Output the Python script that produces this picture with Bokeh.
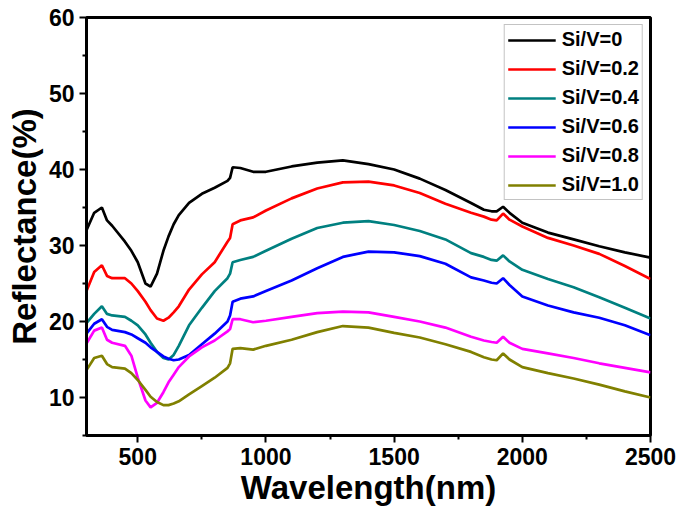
from bokeh.plotting import figure
from bokeh.models import FixedTicker, Range1d, Legend, LegendItem
from bokeh.embed import file_html
from bokeh.resources import INLINE

wavelength = [300, 330, 360, 380, 400, 450, 475, 500, 530, 550, 575, 600, 620, 640, 660,
              700, 750, 800, 850, 860, 870, 900, 950, 1000, 1100, 1200, 1300, 1400, 1500,
              1600, 1700, 1800, 1850, 1880, 1900, 1925, 1950, 2000, 2100, 2200, 2300, 2400, 2500]

si_v_00 = [32.0, 34.3, 35.0, 33.3, 32.6, 30.5, 29.3, 27.8, 25.0, 24.6, 26.3, 29.3, 31.2, 32.8, 34.0,
           35.6, 36.8, 37.6, 38.5, 38.9, 40.3, 40.2, 39.7, 39.7, 40.4, 40.9, 41.2, 40.7, 40.0,
           38.8, 37.3, 35.6, 34.7, 34.5, 34.5, 35.1, 34.3, 33.0, 31.7, 30.8, 29.9, 29.1, 28.4]
si_v_02 = [24.0, 26.5, 27.4, 26.0, 25.7, 25.7, 25.0, 24.0, 22.6, 21.5, 20.4, 20.1, 20.5, 21.2, 22.0,
           24.2, 26.2, 27.8, 30.5, 31.0, 32.8, 33.3, 33.7, 34.6, 36.2, 37.5, 38.3, 38.4, 37.9,
           36.9, 35.5, 34.3, 33.8, 33.4, 33.3, 34.2, 33.4, 32.5, 31.0, 30.0, 28.9, 27.3, 25.6]
si_v_04 = [19.8, 21.0, 22.0, 21.0, 20.8, 20.6, 20.1, 19.5, 18.3, 17.2, 16.0, 15.2, 15.0, 15.6, 16.8,
           19.5, 21.8, 24.0, 25.7, 26.3, 27.8, 28.1, 28.5, 29.3, 30.9, 32.3, 33.0, 33.2, 32.7,
           31.9, 30.8, 29.0, 28.5, 28.1, 28.0, 28.7, 27.9, 26.8, 25.6, 24.5, 23.2, 21.8, 20.4]
si_v_06 = [18.4, 19.7, 20.3, 19.3, 18.9, 18.6, 18.3, 17.8, 17.2, 16.6, 16.0, 15.4, 15.1, 14.9, 15.0,
           15.6, 17.0, 18.4, 20.0, 20.8, 22.6, 23.0, 23.3, 24.0, 25.4, 27.0, 28.5, 29.2, 29.1,
           28.6, 27.6, 25.8, 25.4, 25.1, 25.0, 25.7, 24.8, 23.3, 22.1, 21.2, 20.5, 19.5, 18.2]
si_v_08 = [17.1, 18.8, 19.2, 17.6, 17.2, 16.8, 15.5, 12.6, 9.6, 8.7, 9.3, 10.7, 12.0, 13.0, 14.0,
           15.4, 16.6, 17.5, 18.7, 19.0, 20.3, 20.3, 19.9, 20.1, 20.6, 21.1, 21.3, 21.2, 20.6,
           20.0, 19.2, 18.0, 17.5, 17.3, 17.2, 18.0, 17.2, 16.4, 15.8, 15.2, 14.5, 13.9, 13.3]
si_v_10 = [13.6, 15.2, 15.5, 14.4, 14.0, 13.8, 13.2, 12.3, 11.0, 10.1, 9.4, 9.0, 9.0, 9.2, 9.5,
           10.4, 11.5, 12.6, 13.9, 14.5, 16.4, 16.5, 16.3, 16.8, 17.6, 18.6, 19.4, 19.2, 18.5,
           17.9, 17.0, 16.0, 15.3, 15.0, 14.9, 15.8, 15.0, 14.0, 13.2, 12.5, 11.7, 10.8, 10.0]

series = [si_v_00, si_v_02, si_v_04, si_v_06, si_v_08, si_v_10]
labels = ["Si/V=0", "Si/V=0.2", "Si/V=0.4", "Si/V=0.6", "Si/V=0.8", "Si/V=1.0"]
colors = ["#000000", "#FF0000", "#008080", "#0000FF", "#FF00FF", "#808000"]

x_ticks = [500, 1000, 1500, 2000, 2500]
x_minor = [750, 1250, 1750, 2250]
y_ticks = [10, 20, 30, 40, 50, 60]
y_minor = [5, 15, 25, 35, 45, 55]

FONT = "Liberation Sans"

p = figure(width=685, height=516, x_range=Range1d(300, 2500), y_range=Range1d(5, 60),
           output_backend="svg", toolbar_location=None,
           min_border_left=86, min_border_right=35, min_border_top=17, min_border_bottom=81)

p.xgrid.visible = False
p.ygrid.visible = False
p.outline_line_color = "black"
p.outline_line_width = 3
p.outline_line_alpha = 1.0

items = []
for ys, lab, col in zip(series, labels, colors):
    r = p.line(wavelength, ys, line_color=col, line_width=2.7)
    items.append(LegendItem(label=lab, renderers=[r]))

p.xaxis.ticker = FixedTicker(ticks=x_ticks, minor_ticks=x_minor)
p.yaxis.ticker = FixedTicker(ticks=y_ticks, minor_ticks=y_minor)

for ax in (p.xaxis[0], p.yaxis[0]):
    ax.axis_line_width = 3
    ax.axis_line_color = "black"
    ax.major_tick_line_width = 2
    ax.minor_tick_line_width = 2
    ax.major_tick_in = 0
    ax.major_tick_out = 7
    ax.minor_tick_in = 0
    ax.minor_tick_out = 4
    ax.major_label_text_font = FONT
    ax.major_label_text_font_style = "bold"
    ax.major_label_text_font_size = "23px"
    ax.major_label_text_color = "black"
    ax.axis_label_text_font = FONT
    ax.axis_label_text_font_style = "bold"
    ax.axis_label_text_font_size = "33px"
    ax.axis_label_text_color = "black"

p.xaxis.axis_label = "Wavelength(nm)"
p.yaxis.axis_label = "Reflectance(%)"
p.xaxis.major_label_standoff = 5
p.xaxis.axis_label_standoff = 1
p.yaxis.major_label_standoff = 5
p.yaxis.axis_label_standoff = 3

legend = Legend(items=items, location="top_right")
legend.margin = 7
legend.padding = 3
legend.spacing = 6
legend.glyph_width = 48
legend.glyph_height = 22
legend.label_height = 22
legend.label_width = 20
legend.label_standoff = 6
legend.label_text_font = FONT
legend.label_text_font_style = "bold"
legend.label_text_font_size = "20px"
legend.label_text_color = "black"
legend.border_line_color = "#888888"
legend.border_line_width = 1
legend.background_fill_color = "white"
p.add_layout(legend)

open("out.html", "w").write(file_html(p, INLINE))
